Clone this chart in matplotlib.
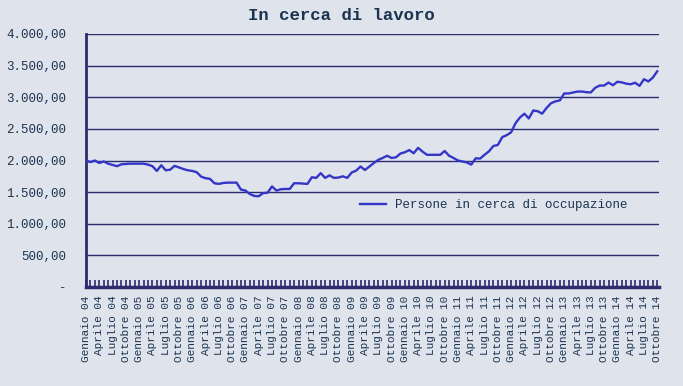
import matplotlib
matplotlib.use("Agg")
import matplotlib.pyplot as plt
import numpy as np

# ---- data ----
months = ["Gennaio", "Febbraio", "Marzo", "Aprile", "Maggio", "Giugno",
          "Luglio", "Agosto", "Settembre", "Ottobre", "Novembre", "Dicembre"]
years = list(range(4, 15))
labels = [f"{m} {y:02d}" for y in years for m in months][:130]

values = [
    2000, 1975, 2000, 1960, 1985, 1950, 1930, 1910, 1940, 1945, 1950, 1950,   # 2004
    1950, 1950, 1935, 1910, 1835, 1925, 1845, 1855, 1915, 1890, 1865, 1845,   # 2005
    1835, 1815, 1745, 1720, 1710, 1640, 1630, 1645, 1650, 1650, 1650, 1540,   # 2006
    1525, 1470, 1440, 1435, 1485, 1490, 1590, 1525, 1545, 1550, 1550, 1640,   # 2007
    1640, 1635, 1630, 1735, 1725, 1800, 1725, 1765, 1725, 1730, 1750, 1725,   # 2008
    1810, 1840, 1905, 1850, 1905, 1960, 2010, 2040, 2075, 2040, 2050, 2110,   # 2009
    2130, 2165, 2115, 2200, 2140, 2090, 2090, 2090, 2090, 2150, 2075, 2040,   # 2010
    2000, 1985, 1970, 1935, 2035, 2030, 2090, 2145, 2230, 2245, 2370, 2400,   # 2011
    2445, 2590, 2680, 2740, 2665, 2790, 2780, 2740, 2830, 2905, 2935, 2950,   # 2012
    3060, 3060, 3075, 3090, 3090, 3080, 3076, 3150, 3185, 3185, 3232, 3190,   # 2013
    3245, 3235, 3215, 3205, 3230, 3180, 3285, 3250, 3310, 3410,               # 2014
]
series_name = "Persone in cerca di occupazione"
title = "In cerca di lavoro"
yticks = [0, 500, 1000, 1500, 2000, 2500, 3000, 3500, 4000]
ytick_labels = ["-", "500,00", "1.000,00", "1.500,00", "2.000,00",
                "2.500,00", "3.000,00", "3.500,00", "4.000,00"]

# ---- style ----
bg = "#dfe4ec"
navy = "#2b2b6e"
txt = "#1c3350"
line_c = "#3535c8"

fig = plt.figure(figsize=(6.83, 3.86), dpi=100, facecolor=bg)
ax = fig.add_axes([86/683, 1-287/386, 573/683, 253/386], facecolor=bg)

x = np.arange(len(values))
ax.plot(x, values, color=line_c, lw=1.7, label=series_name, zorder=3)

ax.set_ylim(0, 4000)
ax.set_xlim(0, 129.4)
ax.set_yticks(yticks)
ax.set_yticklabels(ytick_labels, family="Liberation Mono", fontsize=9, color=txt)
ax.tick_params(axis="y", length=0, pad=14)
ax.yaxis.grid(True, color=navy, lw=1.0)
ax.set_axisbelow(True)

ax.set_xticks(x, minor=True)
ax.set_xticks(x[::3])
ax.set_xticklabels(labels[::3], rotation=90, family="Liberation Mono",
                   fontsize=8, color=txt)
ax.tick_params(axis="x", which="both", direction="in", length=5,
               width=1.2, color=navy, pad=6)

for s in ["top", "right"]:
    ax.spines[s].set_visible(False)
ax.spines["left"].set_color(navy)
ax.spines["left"].set_linewidth(2)
ax.spines["bottom"].set_color(navy)
ax.spines["bottom"].set_linewidth(2.5)

leg = ax.legend(loc="center left", bbox_to_anchor=((360-86)/573, (287-205)/253),
                frameon=False, borderpad=0, borderaxespad=0, handlelength=2.1,
                handletextpad=0.7, prop={"family": "Liberation Mono", "size": 9})
for t in leg.get_texts():
    t.set_color(txt)

fig.text(341/683, 1-16/386, title, ha="center", va="center",
         family="Liberation Mono", fontweight="bold", fontsize=12.5, color=txt)

fig.savefig("out.png", dpi=100, facecolor=bg)
